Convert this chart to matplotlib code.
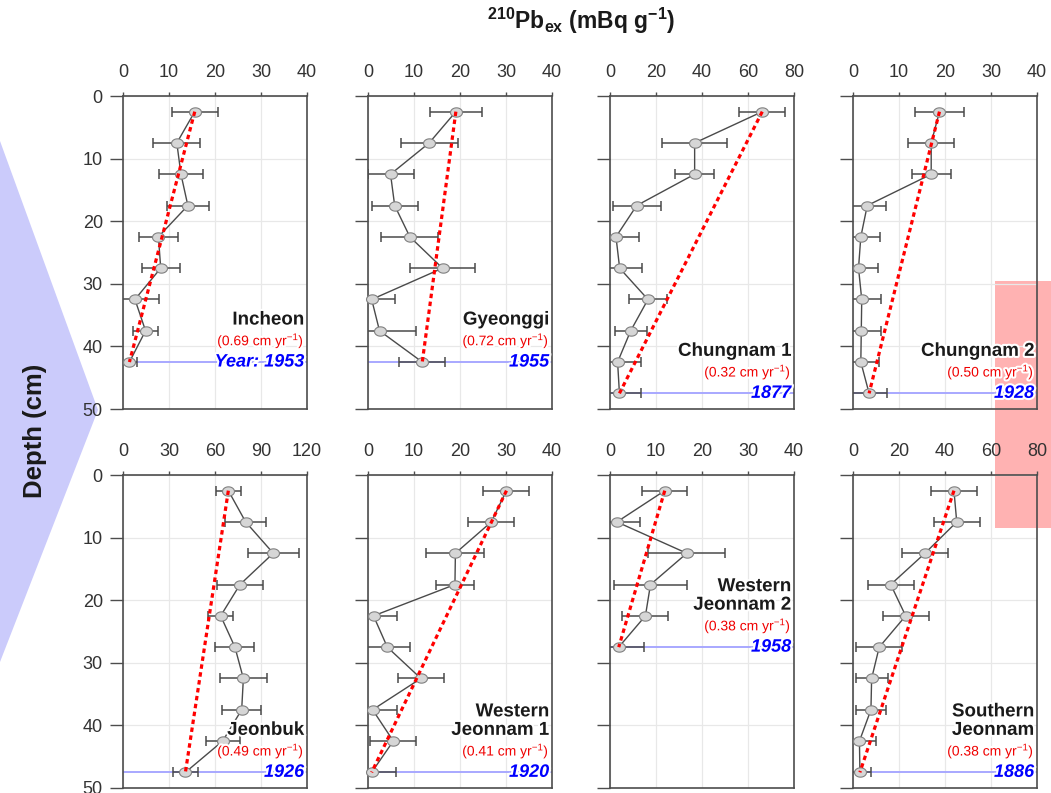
import numpy as np
import matplotlib
matplotlib.use('Agg')
import matplotlib.pyplot as plt
from matplotlib.path import Path
from matplotlib.patches import Polygon, Rectangle
import matplotlib.patheffects as pe

plt.rcParams['font.family'] = ['Liberation Sans', 'DejaVu Sans']
plt.rcParams['mathtext.fontset'] = 'custom'
plt.rcParams['mathtext.rm'] = 'Liberation Sans'
plt.rcParams['mathtext.bf'] = 'Liberation Sans:bold'
plt.rcParams['mathtext.it'] = 'Liberation Sans:italic'

# ---------------- data ----------------
sites = ['Incheon', 'Gyeonggi', 'Chungnam 1', 'Chungnam 2',
         'Jeonbuk', 'Western\nJeonnam 1', 'Western\nJeonnam 2', 'Southern\nJeonnam']
rates = ['0.69', '0.72', '0.32', '0.50', '0.49', '0.41', '0.38', '0.38']
years = ['Year: 1953', '1955', '1877', '1928', '1926', '1920', '1958', '1886']
xmax = [40, 40, 80, 40, 120, 40, 40, 80]
xstep = [10, 10, 20, 10, 30, 10, 10, 20]

depth_9 = [2.5, 7.5, 12.5, 17.5, 22.5, 27.5, 32.5, 37.5, 42.5]
depth_10 = [2.5, 7.5, 12.5, 17.5, 22.5, 27.5, 32.5, 37.5, 42.5, 47.5]
depth_6 = [2.5, 7.5, 12.5, 17.5, 22.5, 27.5]

incheon_pb = [15.6, 11.7, 12.6, 14.1, 7.7, 8.2, 2.6, 4.9, 1.4]
incheon_err = [5.0, 5.1, 4.8, 4.6, 4.2, 4.1, 5.3, 2.7, 1.6]
gyeonggi_pb = [19.1, 13.3, 4.9, 5.8, 9.1, 16.2, 0.8, 2.5, 11.8]
gyeonggi_err = [5.6, 6.2, 5.0, 5.0, 6.2, 7.0, 5.1, 7.9, 5.0]
chungnam1_pb = [66.2, 36.8, 36.8, 11.6, 2.6, 4.2, 16.5, 9.0, 3.3, 4.1]
chungnam1_err = [10.0, 14.0, 8.4, 10.5, 10.2, 9.9, 8.4, 7.0, 10.3, 9.4]
chungnam2_pb = [18.8, 17.0, 17.0, 3.1, 1.7, 1.2, 1.9, 1.8, 1.7, 3.5]
chungnam2_err = [5.3, 5.0, 4.2, 4.1, 4.2, 4.2, 4.2, 4.3, 4.0, 3.8]
jeonbuk_pb = [68.7, 80.0, 98.0, 76.3, 63.7, 73.0, 78.5, 77.4, 65.0, 40.7]
jeonbuk_err = [8.2, 13.4, 16.5, 15.2, 8.3, 12.7, 15.3, 12.8, 11.0, 8.0]
wjeonnam1_pb = [30.1, 26.8, 19.0, 18.9, 1.2, 4.2, 11.5, 1.0, 5.5, 0.8]
wjeonnam1_err = [5.0, 5.0, 6.3, 4.2, 5.2, 5.0, 5.0, 5.2, 5.0, 5.2]
wjeonnam2_pb = [11.9, 1.5, 16.7, 8.8, 7.7, 1.9]
wjeonnam2_err = [4.9, 5.0, 8.4, 7.9, 5.0, 5.4]
sjeonnam_pb = [43.9, 45.1, 31.3, 16.4, 22.9, 11.4, 8.1, 7.8, 2.8, 3.0]
sjeonnam_err = [10.0, 10.0, 10.0, 10.0, 10.0, 10.0, 7.0, 6.7, 7.0, 5.0]

depths = [depth_9, depth_9, depth_10, depth_10, depth_10, depth_10, depth_6, depth_10]
values = [incheon_pb, gyeonggi_pb, chungnam1_pb, chungnam2_pb,
          jeonbuk_pb, wjeonnam1_pb, wjeonnam2_pb, sjeonnam_pb]
errors = [incheon_err, gyeonggi_err, chungnam1_err, chungnam2_err,
          jeonbuk_err, wjeonnam1_err, wjeonnam2_err, sjeonnam_err]

# ---------------- figure ----------------
W, H = 1051, 793
fig = plt.figure(figsize=(W / 100, H / 100), dpi=100)
fig.patch.set_facecolor('white')

# decorative shapes (behind axes)
tri = Polygon([(0, 1 - 141 / H), (98 / W, 1 - 410 / H), (0, 1 - 662 / H)],
              closed=True, transform=fig.transFigure, facecolor='#cbcbfb',
              edgecolor='none', zorder=-1)
fig.add_artist(tri)
rect = Rectangle((995 / W, 1 - 528 / H), 60 / W, (528 - 281) / H,
                 transform=fig.transFigure, facecolor='#ffb2b2',
                 edgecolor='none', zorder=-1)
fig.add_artist(rect)

col_left = [123, 368, 610, 853]
ax_w = 184
row_top = [96, 475]
ax_h = 313

theta = np.linspace(0, 2 * np.pi, 64)
ell = Path(np.column_stack([np.cos(theta), 0.78 * np.sin(theta)]), closed=True)

spine_c = '#4d4d4d'
halo = [pe.withStroke(linewidth=3, foreground='white')]

for i in range(8):
    r, c = divmod(i, 4)
    left = col_left[c] / W
    bottom = 1 - (row_top[r] + ax_h) / H
    ax = fig.add_axes([left, bottom, ax_w / W, ax_h / H])
    ax.set_facecolor('none')
    d = depths[i]
    x = values[i]
    e = errors[i]
    xm = xmax[i]

    ax.set_xlim(0, xm)
    ax.set_ylim(50, 0)
    ax.set_xticks(np.arange(0, xm + 1, xstep[i]))
    ax.set_yticks([0, 10, 20, 30, 40, 50])
    ax.xaxis.tick_top()
    ax.tick_params(axis='x', direction='out', length=3, pad=8, labelsize=13,
                   color=spine_c, labelcolor='#333333', width=1)
    ax.tick_params(axis='y', direction='out', length=9.5, pad=5, labelsize=13,
                   color=spine_c, labelcolor='#333333', width=1,
                   labelleft=(c == 0))
    for s in ax.spines.values():
        s.set_color(spine_c)
        s.set_linewidth(1.2)
    ax.grid(True, color='#e8e8e8', lw=0.9)
    ax.set_axisbelow(True)

    # blue horizon line at deepest dated sample
    ax.plot([0, xm], [d[-1], d[-1]], color='#a8a8ff', lw=1.4, zorder=1.5)

    ax.errorbar(x, d, xerr=e, fmt='none', ecolor='#4a4a4a', elinewidth=1.1,
                capsize=3.6, capthick=1.1, zorder=2)
    ax.plot(x, d, color='#4a4a4a', lw=1.0, zorder=2.5)
    ax.plot(x, d, ls='none', marker=ell, ms=8.6, mfc='#d6d6d6',
            mec='#808080', mew=0.8, zorder=3, clip_on=False)
    ax.plot([x[0], x[-1]], [d[0], d[-1]], color='#ff0000', lw=2.3,
            ls=(0, (1.4, 1.1)), zorder=4, dash_capstyle='butt')

    # labels
    ax.annotate(years[i], xy=(1, d[-1]), xycoords=('axes fraction', 'data'),
                xytext=(-3, 0), textcoords='offset pixels', ha='right',
                va='center', fontsize=13, fontweight='bold', fontstyle='italic',
                color='#0000ff', zorder=6, path_effects=halo)
    ax.annotate('(' + rates[i] + ' cm yr$^{-1}$)', xy=(1, d[-1]),
                xycoords=('axes fraction', 'data'), xytext=(-3, 21.5),
                textcoords='offset pixels', ha='right', va='center',
                fontsize=10, color='#f00000', zorder=6, path_effects=halo)
    lines = sites[i].split('\n')
    for k, line in enumerate(reversed(lines)):
        ax.annotate(line, xy=(1, d[-1]), xycoords=('axes fraction', 'data'),
                    xytext=(-3, 42 + 18.5 * k), textcoords='offset pixels',
                    ha='right', va='center', fontsize=13.5, fontweight='bold',
                    color='#1a1a1a', zorder=6, path_effects=halo)

fig.text(581 / W, 1 - 29 / H,
         r'$^{\mathbf{210}}\mathbf{Pb}_{\mathbf{ex}}$ (mBq g$^{\mathbf{-1}}$)',
         fontsize=16.5, fontweight='bold', ha='center', va='baseline',
         color='#1a1a1a')
fig.text(35 / W, 1 - 431 / H, 'Depth (cm)', rotation=90, fontsize=18.5,
         fontweight='bold', ha='center', va='center', color='#1a1a1a')

fig.savefig('out.png', dpi=100)
